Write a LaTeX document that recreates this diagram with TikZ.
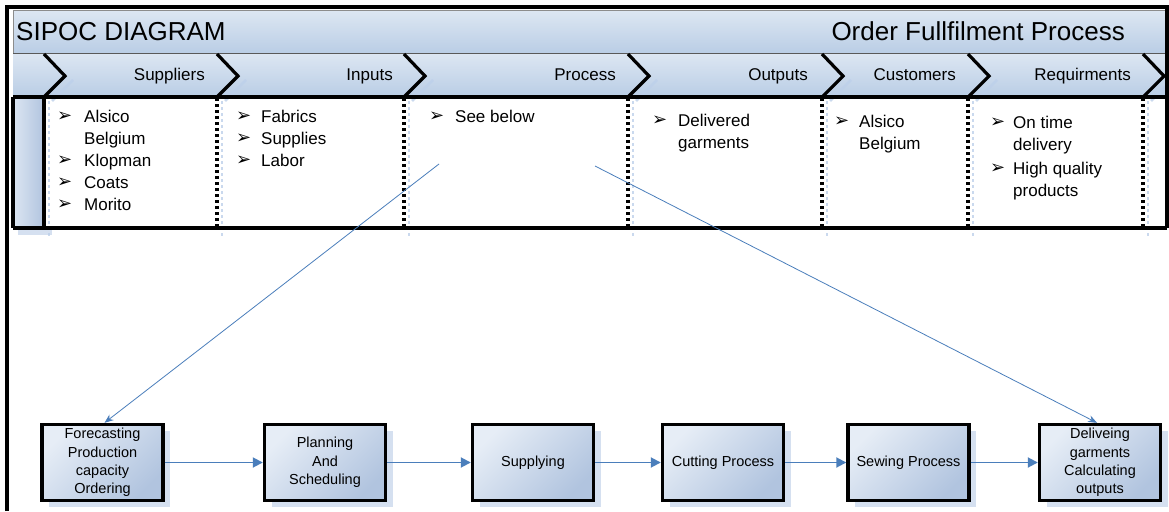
\documentclass[tikz,border=0pt]{standalone}
\usepackage{fontspec}
\setmainfont{Liberation Sans}
\newfontfamily\dvfont{DejaVu Sans}
\usetikzlibrary{arrows.meta,shadows}
\definecolor{hdtop}{HTML}{DCE6F2}
\definecolor{hdbot}{HTML}{B9CDE5}
\definecolor{bxlight}{HTML}{E6EDF6}
\definecolor{bxdark}{HTML}{B1C4DF}
\definecolor{shad}{HTML}{D5E0F0}
\definecolor{lineblue}{HTML}{4A7EBB}
\definecolor{chevshadc}{HTML}{BDD0EA}
\newcommand\blt{\raisebox{0.5pt}{\dvfont\fontsize{18}{18}\selectfont ➢}}
\begin{document}
\begin{tikzpicture}[x=1pt,y=-1pt,
  procbox/.style={draw=black, line width=3.4pt, top color=bxlight, bottom color=bxdark,
    shading angle=45, minimum width=121pt, minimum height=76pt, inner sep=0pt, align=center,
    font=\fontsize{14.5}{18.3}\selectfont,
    drop shadow={shadow xshift=7pt, shadow yshift=-6pt, fill=shad, opacity=1, draw=none}},
  flow/.style={draw=lineblue, line width=1.8pt, -{Triangle[length=10pt,width=10pt]}},
  diag/.style={draw=lineblue, line width=0.8pt, -{Stealth[length=9pt,width=7pt]}},
  chevline/.style={draw=black, line width=3.2pt, line join=miter},
  chevshad/.style={draw=chevshadc, line width=2.8pt, opacity=0.8},
  dotline/.style={draw=black, line width=3.2pt, dash pattern=on 3.3pt off 2.7pt},
  dotshad/.style={draw=chevshadc, line width=2.4pt, dash pattern=on 3pt off 3pt, opacity=0.8},
  hdr/.style={font=\fontsize{26}{26}\selectfont, inner sep=0pt},
  collab/.style={font=\fontsize{17}{17}\selectfont, inner sep=0pt, anchor=base east},
  body/.style={font=\fontsize{17}{22}\selectfont, inner sep=0pt, anchor=base west, align=left}
]
\useasboundingbox (0,0) rectangle (1169,511);
\fill[white] (0,0) rectangle (1169,511);

% header bar
\shade[top color=hdtop, bottom color=hdbot, draw=gray!90, line width=1pt] (13,11) rectangle (1167,54);
\node[hdr, anchor=base west] (title) at (16,41) {SIPOC DIAGRAM};
\node[hdr, anchor=base east] (subtitle) at (1125,41) {Order Fullfilment Process};

% chevron row
\shade[top color=hdtop, bottom color=hdbot] (13,54) rectangle (1167,97);
\draw[gray!70!black, line width=1pt] (13,54) -- (1167,54);
\foreach \x in {44,217,404,628,822,968,1143} {
  \draw[chevshad] (\x+29,80) -- (\x+8,101);
}

% left strip
\shade[left color=hdtop, right color=bxdark] (13,97) rectangle (44,228);
\fill[shad] (18,228) rectangle (52,235);

% dotted column shadows and separators
\foreach \x in {44,217,404,628,822,968,1143} {
  \draw[dotshad] (\x+5,101) -- (\x+5,236);
}
\foreach \x in {217,404,628,822,968,1143} {
  \draw[dotline] (\x,98) -- (\x,228);
}

% table borders
\draw[black, line width=3.2pt] (13,97) -- (1167,97);
\draw[black, line width=3.2pt] (13,228) -- (1167,228);
\draw[black, line width=3.2pt] (13,97) -- (13,228);
\draw[black, line width=3.2pt] (44,97) -- (44,228);

% chevrons
\foreach \x in {44,217,404,628,822,968,1143} {
  \draw[chevline] (\x,54) -- (\x+21,76) -- (\x,97);
}

% column labels
\node[collab] (lS) at (205,81) {Suppliers};
\node[collab] (lI) at (393,81) {Inputs};
\node[collab] (lP) at (616,81) {Process};
\node[collab] (lO) at (808,81) {Outputs};
\node[collab] (lC) at (956,81) {Customers};
\node[collab] (lR) at (1131,81) {Requirments};

% column contents
\node[body] (cS) at (57,122) {\begin{tabular}[t]{@{}p{27pt}@{}l@{}}
  \blt & Alsico\\ & Belgium\\ \blt & Klopman\\ \blt & Coats\\ \blt & Morito\end{tabular}};
\node[body] (cI) at (236,122) {\begin{tabular}[t]{@{}p{25pt}@{}l@{}}
  \blt & Fabrics\\ \blt & Supplies\\ \blt & Labor\end{tabular}};
\node[body] (cP) at (429,122) {\begin{tabular}[t]{@{}p{26pt}@{}l@{}}
  \blt & See below\end{tabular}};
\node[body] (cO) at (652,126) {\begin{tabular}[t]{@{}p{26pt}@{}l@{}}
  \blt & Delivered\\ & garments\end{tabular}};
\node[body] (cC) at (834,127) {\begin{tabular}[t]{@{}p{25pt}@{}l@{}}
  \blt & Alsico\\ & Belgium\end{tabular}};
\node[body] (cR) at (990,128) {\begin{tabular}[t]{@{}p{23pt}@{}l@{}}
  \blt & On time\\ & delivery\\[2pt] \blt & High quality\\ & products\end{tabular}};

% frame
\draw[black, line width=3.2pt] (7,511) -- (7,7) -- (1167,7) -- (1167,228);

% process boxes
\node[procbox] (b1) at (102.5,462.5) {Forecasting\\Production\\capacity\\Ordering};
\node[procbox] (b2) at (325,462.5) {Planning\\And\\Scheduling};
\node[procbox] (b3) at (533,462.5) {Supplying};
\node[procbox] (b4) at (723,462.5) {Cutting Process};
\node[procbox] (b5) at (908.5,462.5) {Sewing Process};
\node[procbox] (b6) at (1100,462.5) {Deliveing\\garments\\Calculating\\outputs};

\draw[flow] (b1) -- (b2);
\draw[flow] (b2) -- (b3);
\draw[flow] (b3) -- (b4);
\draw[flow] (b4) -- (b5);
\draw[flow] (b5) -- (b6);

\coordinate (s1) at (439,164);
\coordinate (s2) at (595,166);
\draw[diag] (s1) -- ([xshift=2pt]b1.north);
\draw[diag] (s2) -- ([xshift=-3pt]b6.north);
\end{tikzpicture}
\end{document}
